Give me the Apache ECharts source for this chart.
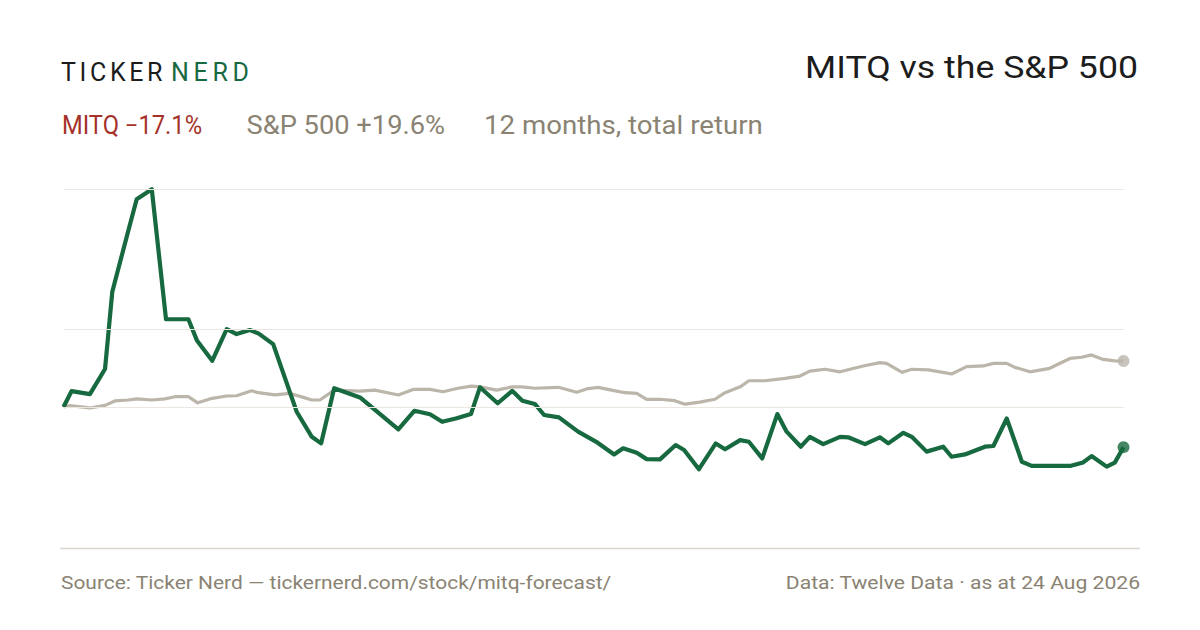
<!DOCTYPE html>
<html><head><meta charset="utf-8">
<script src="https://cdn.jsdelivr.net/npm/echarts@6/dist/echarts.min.js"></script>
<style>html,body{margin:0;padding:0;background:#fff}#c{width:1200px;height:630px}</style>
</head><body><div id="c"></div>
<script>
// Day offsets (0 = 24 Aug 2025) and cumulative total return (%)
const mitqDays = [0,2.8,9.1,14.3,16.8,22.2,25.2,30.4,35.3,43.0,45.9,51.2,56.2,59.6,64.2,67.1,72.2,80.3,85.5,88.7,93.2,102.1,115.3,120.8,126.2,130.4,135.4,140.3,143.4,149.5,154.5,158.0,162.3,165.5,170.6,177.2,183.9,189.6,192.7,197.4,200.8,205.4,210.8,213.7,218.8,224.6,227.8,233.0,236.0,240.6,245.8,249.0,253.9,257.0,261.6,267.4,270.2,276.0,281.1,284.0,289.2,292.1,297.2,302.9,305.8,310.4,317.3,320.2,324.8,330.0,333.4,346.6,351.1,354.0,359.2,362.0,365];
const mitqReturn = [0,6.8,5.5,16.2,49.1,74.6,88.5,92.8,37.4,37.4,28.5,19.7,33.2,31.1,32.8,31.4,26.8,-2.0,-12.7,-15.5,8.0,4.1,-9.5,-1.6,-3.1,-6.3,-4.8,-3.0,8.4,1.6,6.9,2.7,1.3,-3.4,-4.4,-10.5,-15.2,-20.2,-17.6,-19.5,-22.2,-22.3,-16.2,-18.3,-26.5,-15.5,-18.0,-14.1,-14.8,-21.9,-3.0,-10.5,-16.9,-12.7,-15.8,-12.7,-12.9,-15.8,-12.9,-15.5,-11.0,-12.7,-19.0,-16.9,-21.2,-20.2,-16.9,-16.6,-4.9,-23.3,-25.1,-25.1,-23.6,-20.9,-25.4,-23.7,-17.1];
const spxDays = [0,2.2,9.1,14.3,17.7,22.3,25.2,30.4,34.9,38.4,43.0,46.2,51.2,56.2,59.6,64.8,67.1,72.8,78.0,82.6,85.5,88.3,93.2,102.1,107.2,115.3,120.4,126.2,130.7,135.8,140.5,143.4,149.2,154.5,157.8,162.3,170.4,176.7,180.1,184.1,188.7,193.3,197.4,200.8,205.4,210.5,214.0,219.1,224.3,227.8,233.0,236.0,241.6,248.5,253.6,257.0,262.2,267.4,275.4,281.1,283.4,288.8,292.1,297.8,305.8,311.0,316.7,320.2,324.8,327.6,332.8,339.6,341.9,346.6,350.6,354.0,358.0,362.0,365];
const spxReturn = [0,0.6,-0.4,0.7,2.6,3.0,3.5,3.0,3.5,4.4,4.4,1.8,3.7,4.7,4.8,6.9,6.1,5.2,5.8,4.1,3.0,3.0,7.2,6.8,7.2,5.1,7.5,7.5,6.5,8.0,8.9,8.6,7.2,8.6,8.6,8.0,8.4,6.3,7.7,8.4,7.2,6.1,5.8,3.3,3.3,2.7,1.2,2.1,3.3,6.1,8.6,11.2,11.2,12.2,13.2,15.3,16.1,15.0,17.5,18.9,18.6,14.8,16.1,15.8,14.1,17.2,17.5,18.6,18.6,16.9,15.0,16.5,17.9,20.7,21.2,22.2,20.3,19.7,19.6];
const gridValues = [0, 33.2, 92.9];

const GREEN = '#17693f', GREY_LINE = '#bcb5aa', GREY_TEXT = '#8a8373', RED = '#a5322a', INK = '#1c1c1c';
const FONT = 'Roboto, "Liberation Sans", sans-serif';

const pairs = (xs, ys) => xs.map((d, i) => [d, ys[i]]);
const mitqData = pairs(mitqDays, mitqReturn);
const spxData = pairs(spxDays, spxReturn);

const ctx = document.createElement('canvas').getContext('2d');
function natural(str, size) { ctx.font = '400 ' + size + 'px ' + FONT; return ctx.measureText(str).width; }
// Text fitted horizontally to the reference's measured width
function fitText(str, x, y, size, color, width, align) {
  return {type: 'text', x: x, y: y, scaleX: width / natural(str, size), scaleY: 1,
    style: {text: str, fill: color, font: '400 ' + size + 'px ' + FONT, textAlign: align || 'left', textVerticalAlign: 'bottom'}};
}
// Letter-spaced logo words (spacing applied to the SVG text afterwards)
const logoWords = [
  {text: 'TICKER', x: 61, width: 101.5, color: INK},
  {text: 'NERD', x: 171, width: 78, color: GREEN}
];
const LOGO_SIZE = 25;

const graphics = [
  ...logoWords.map(w => ({type: 'text', x: w.x, y: 85,
    style: {text: w.text, fill: w.color, font: '400 ' + LOGO_SIZE + 'px ' + FONT, textVerticalAlign: 'bottom'}})),
  fitText('MITQ vs the S&P 500', 1138, 83.5, 32, INK, 333, 'right'),
  fitText('MITQ \u221217.1%', 62, 137.5, 25, RED, 140),
  fitText('S&P 500 +19.6%', 246.5, 137.5, 25, GREY_TEXT, 198.5),
  fitText('12 months, total return', 484, 137.5, 25, GREY_TEXT, 279),
  {type: 'line', shape: {x1: 60, y1: 548.5, x2: 1140, y2: 548.5}, style: {stroke: '#dcd7ce', lineWidth: 1.5}},
  fitText('Source: Ticker Nerd \u2014 tickernerd.com/stock/mitq-forecast/', 61, 592, 18, GREY_TEXT, 551),
  fitText('Data: Twelve Data \u00b7 as at 24 Aug 2026', 1140, 592, 18, GREY_TEXT, 355, 'right')
];

const chart = echarts.init(document.getElementById('c'), null, {renderer: 'svg'});
const yMin = -40, yMax = 92.9;
chart.setOption({
  animation: false,
  backgroundColor: '#ffffff',
  grid: {left: 63.5, right: 76.5, top: 189, bottom: 129.1},
  xAxis: {type: 'value', min: 0, max: 365, show: false},
  yAxis: {type: 'value', min: yMin, max: yMax, show: false, splitLine: {show: false}},
  graphic: graphics,
  series: [
    {type: 'line', data: [], z: 0, silent: true,
      markLine: {silent: true, symbol: 'none', label: {show: false},
        lineStyle: {color: '#ebe7e0', width: 1.2, type: 'solid'},
        data: gridValues.map(v => ({yAxis: v}))}},
    {name: 'S&P 500', type: 'line', data: spxData, showSymbol: false, symbol: 'none', z: 2,
      lineStyle: {color: GREY_LINE, width: 3.2, join: 'round'}},
    {name: 'MITQ', type: 'line', data: mitqData, showSymbol: false, symbol: 'none', z: 3,
      lineStyle: {color: GREEN, width: 4.2, join: 'round'}},
    {type: 'scatter', z: 4, symbolSize: 12, data: [
      {value: spxData[spxData.length - 1], itemStyle: {color: GREY_LINE}},
      {value: mitqData[mitqData.length - 1], itemStyle: {color: GREEN}}]}
  ]
});

function spaceLogo() {
  document.querySelectorAll('#c svg text').forEach(t => {
    const w = logoWords.find(l => l.text === t.textContent);
    if (w) {
      const sp = (w.width - natural(w.text, LOGO_SIZE)) / (w.text.length - 1);
      t.setAttribute('letter-spacing', sp.toFixed(2) + 'px');
    }
  });
}
spaceLogo();
chart.on('finished', spaceLogo);
setTimeout(spaceLogo, 0);
</script></body></html>
